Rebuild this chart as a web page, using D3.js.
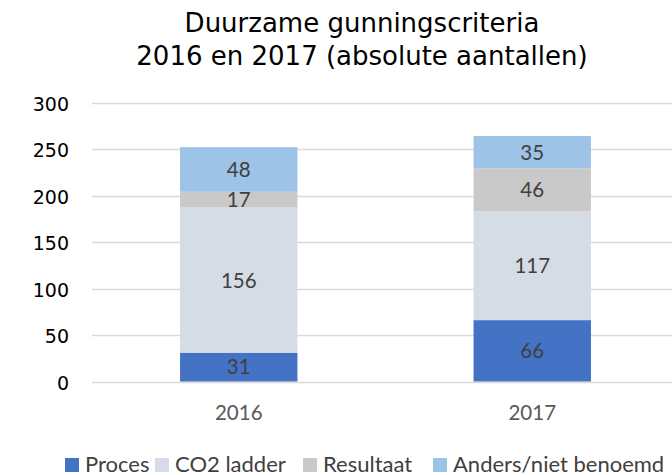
<!DOCTYPE html>
<html>
<head>
<meta charset="utf-8">
<script src="https://cdn.jsdelivr.net/npm/d3@7"></script>
<style>
  body { margin: 0; background: #fff; }
  svg { display: block; }
</style>
</head>
<body>
<div class="visHolder"></div>
<script>
let years = ['2016', '2017'];
let seriesNames = ['Proces', 'CO2 ladder', 'Resultaat', 'Anders/niet benoemd'];
let proces = [31, 66];
let co2Ladder = [156, 117];
let resultaat = [17, 46];
let anders = [48, 35];
let yTicks = [0, 50, 100, 150, 200, 250, 300];
let colors = ['#4472C4', '#D6DCE5', '#C9C9C9', '#9DC3E6'];

let width = 672;
let height = 475;
let plotLeft = 92;
let plotRight = 679;
let plotTop = 102.5;
let plotBottom = 381.5;

let svg = d3.select('.visHolder').append('svg')
  .attr('width', width)
  .attr('height', height);

// build rows for the stack
let rows = years.map((y, i) => ({
  year: y,
  'Proces': proces[i],
  'CO2 ladder': co2Ladder[i],
  'Resultaat': resultaat[i],
  'Anders/niet benoemd': anders[i]
}));
let stacked = d3.stack().keys(seriesNames)(rows);

let xScale = d3.scaleBand()
  .domain(years)
  .range([plotLeft, plotRight]);

let yScale = d3.scaleLinear()
  .domain([0, 300])
  .range([plotBottom, plotTop]);

let barWidth = xScale.bandwidth() * 0.4;

// title
let title = svg.append('text')
  .attr('text-anchor', 'middle')
  .attr('font-family', 'DejaVu Sans')
  .attr('font-size', 26)
  .attr('fill', '#000');
title.append('tspan').attr('x', 362).attr('y', 32).text('Duurzame gunningscriteria');
title.append('tspan').attr('x', 362).attr('y', 65).text('2016 en 2017 (absolute aantallen)');

// gridlines
svg.append('g')
  .selectAll('line')
  .data(yTicks)
  .join('line')
  .attr('x1', plotLeft)
  .attr('x2', plotRight)
  .attr('y1', d => Math.round(yScale(d)) + 0.5)
  .attr('y2', d => Math.round(yScale(d)) + 0.5)
  .attr('stroke', '#D9D9D9')
  .attr('stroke-width', 1.3);

// y axis labels
let yAxis = d3.axisLeft(yScale).tickValues(yTicks).tickSize(0).tickPadding(0);
let yg = svg.append('g')
  .attr('transform', 'translate(69,0)')
  .call(yAxis);
yg.select('.domain').remove();
yg.selectAll('text')
  .attr('dy', '0.4em')
  .attr('font-family', 'DejaVu Sans')
  .attr('font-size', 19)
  .attr('fill', '#000');

// bars
let layers = svg.append('g')
  .selectAll('g')
  .data(stacked)
  .join('g')
  .attr('fill', (d, i) => colors[i]);

layers.selectAll('rect')
  .data(d => d)
  .join('rect')
  .attr('x', d => xScale(d.data.year) + (xScale.bandwidth() - barWidth) / 2)
  .attr('width', barWidth)
  .attr('y', d => yScale(d[1]))
  .attr('height', d => yScale(d[0]) - yScale(d[1]));

// data labels
layers.selectAll('text')
  .data(d => d.map(p => ({ p: p, key: d.key })))
  .join('text')
  .attr('x', d => xScale(d.p.data.year) + xScale.bandwidth() / 2)
  .attr('y', d => (yScale(d.p[0]) + yScale(d.p[1])) / 2)
  .attr('dy', '0.36em')
  .attr('text-anchor', 'middle')
  .attr('font-family', 'Lato')
  .attr('font-size', 20.5)
  .attr('fill', '#404040')
  .text(d => d.p[1] - d.p[0]);

// x axis labels
let xAxis = d3.axisBottom(xScale).tickSize(0).tickPadding(0);
let xg = svg.append('g')
  .attr('transform', 'translate(0,420)')
  .call(xAxis);
xg.select('.domain').remove();
xg.selectAll('text')
  .attr('dy', 0)
  .attr('font-family', 'Lato')
  .attr('font-size', 20.5)
  .attr('fill', '#595959');

// legend
let legendX = [65, 155, 303, 433];
let legend = svg.append('g')
  .selectAll('g')
  .data(seriesNames)
  .join('g')
  .attr('transform', (d, i) => 'translate(' + legendX[i] + ',458)');
legend.append('rect')
  .attr('width', 14)
  .attr('height', 14)
  .attr('fill', (d, i) => colors[i]);
legend.append('text')
  .attr('x', 20)
  .attr('y', 14)
  .attr('font-family', 'Lato')
  .attr('font-size', 22)
  .attr('fill', '#404040')
  .text(d => d);
</script>
</body>
</html>
